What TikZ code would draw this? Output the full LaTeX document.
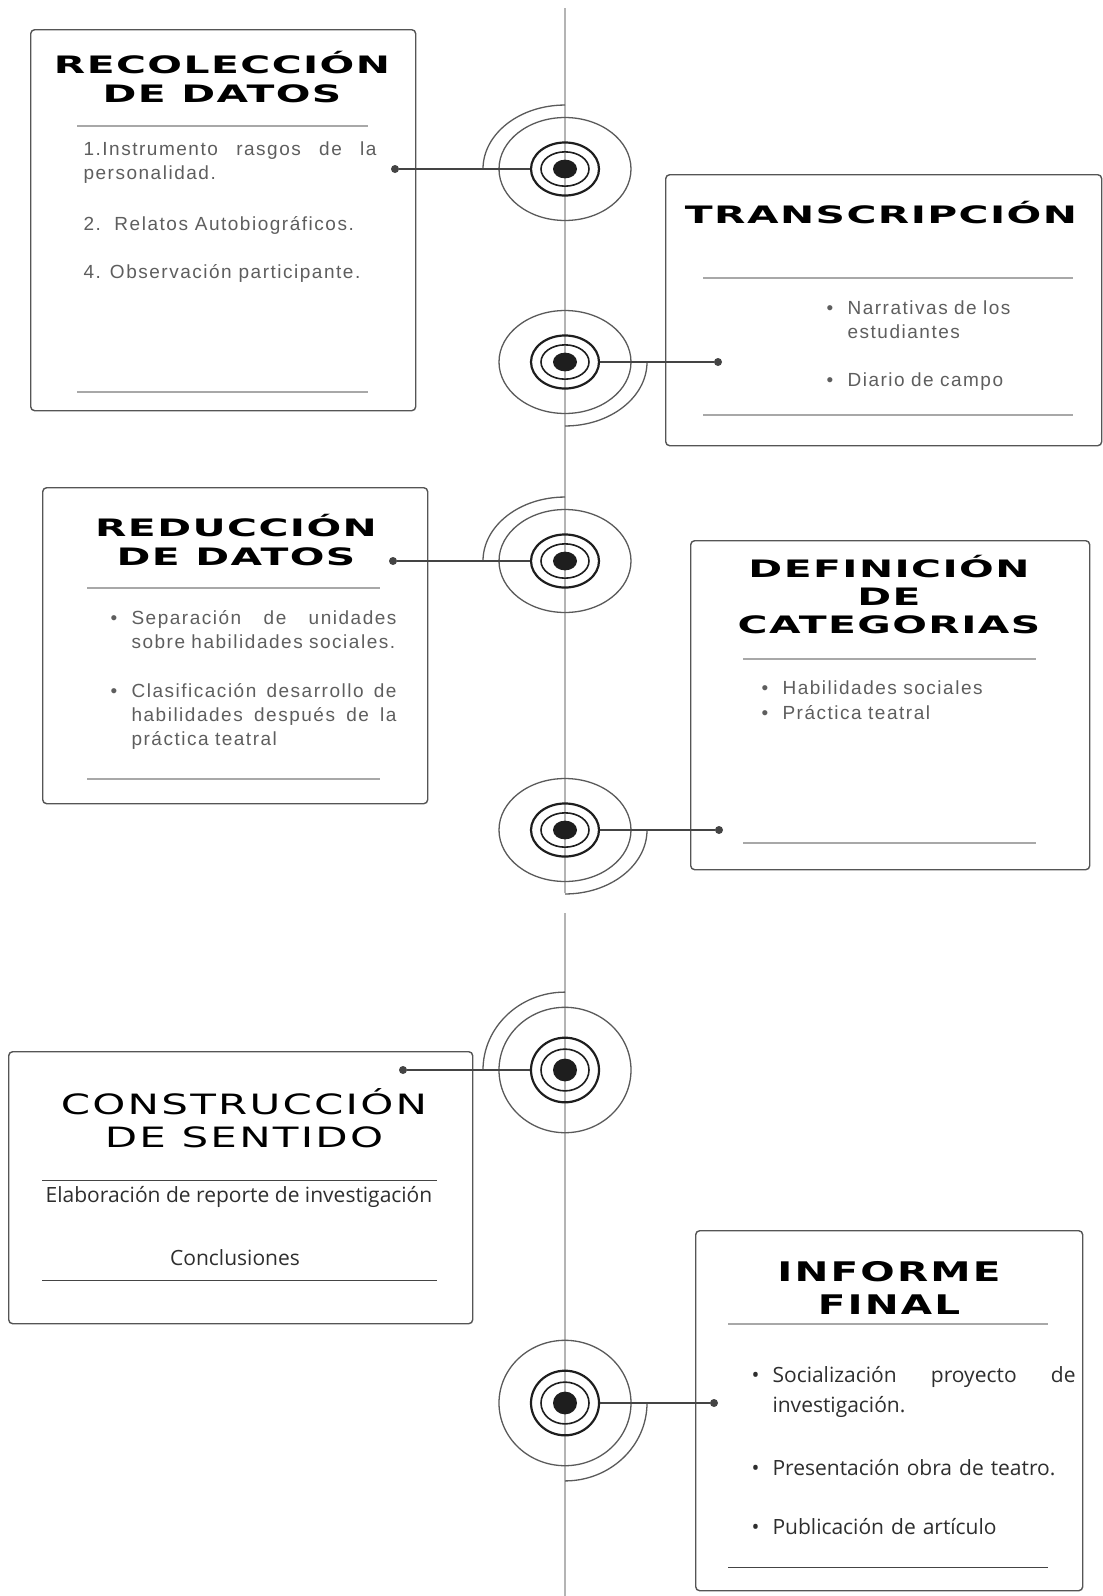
\documentclass[tikz,border=0pt]{standalone}
\usepackage{fontspec}
\setmainfont{Liberation Sans}
\newfontfamily\titlefont[FakeStretch=1.7,LetterSpace=6]{DejaVu Sans}
\newfontfamily\titlefontb[FakeStretch=1.5,LetterSpace=8]{DejaVu Sans}
\newfontfamily\bodyfont[LetterSpace=8]{Liberation Sans}
\newfontfamily\opensans{Open Sans}
\usetikzlibrary{shapes.geometric}

\definecolor{boxgray}{HTML}{555555}
\definecolor{sepgray}{HTML}{A8A8A8}
\definecolor{textgray}{HTML}{5E5E5E}
\definecolor{darktext}{HTML}{2E2E2E}
\definecolor{linegray}{HTML}{B4B4B4}
\definecolor{conngray}{HTML}{444444}
\definecolor{ringblack}{HTML}{1E1E1E}
\definecolor{outergray}{HTML}{5A5A5A}

\newcommand{\tlitem}[1]{\noindent\makebox[21pt][l]{\textbullet}\parbox[t]{\dimexpr\hsize-21pt\relax}{#1}}

\begin{document}
\begin{tikzpicture}[x=1pt, y=-1pt,
  card/.style={draw=boxgray, line width=1.4pt, rounded corners=4pt, anchor=north west, inner sep=0pt},
  cardtitle/.style={align=center, text=black, font=\titlefont\bfseries\fontsize{24}{29}\selectfont},
  bodytext/.style={anchor=west, text=textgray, font=\bodyfont\fontsize{19}{24}\selectfont},
  sanstext/.style={text=darktext, font=\opensans\fontsize{21}{30}\selectfont},
  sepline/.style={draw=sepgray, line width=1.8pt},
  darkline/.style={draw=conngray, line width=1pt},
  enddot/.style={circle, fill=conngray, inner sep=0pt, minimum size=8pt},
  conn/.style={draw=conngray, line width=1.5pt},
  timeline/.style={draw=linegray, line width=2pt},
  midring/.style={ellipse, draw=ringblack, line width=2.2pt, inner sep=0pt},
  ring/.style={draw=ringblack, line width=1.6pt},
  outerring/.style={draw=outergray, line width=1.3pt}]

\fill[white] (0,0) rectangle (1103,1596);
\useasboundingbox (0,0) rectangle (1103,1596);

% timeline
\coordinate (tl0) at (565,8);
\coordinate (tl1) at (565,893);
\coordinate (tl2) at (565,913);
\coordinate (tl3) at (565,1596);
\draw[timeline] (tl0) -- (tl1) (tl2) -- (tl3);

% spirals
\foreach \n/\cy/\k/\s in {1/169/0.78/0, 2/362/0.78/1, 3/561/0.78/0, 4/830/0.78/1, 5/1070/0.95/0, 6/1403/0.95/1}{
  \coordinate (c\n) at (565,\cy);
  \fill[ringblack] (c\n) ellipse [x radius=12, y radius=12*\k];
  \draw[ring] (c\n) ellipse [x radius=24, y radius=22*\k];
  \node[midring, minimum width=68pt, minimum height=68*\k] (r\n) at (c\n) {};
  \draw[outerring] (c\n) ellipse [x radius=66, y radius=66*\k];
  \ifnum\s=0
    \draw[outerring] (565,\cy-82*\k) arc [start angle=270, end angle=180, x radius=82, y radius=82*\k];
  \else
    \draw[outerring] (647,\cy) arc [start angle=0, end angle=90, x radius=82, y radius=82*\k];
  \fi
}

% recoleccion
\node[card, minimum width=385pt, minimum height=381pt] (recol) at (30,29) {};
\node[cardtitle] (recolT) at (222,77) {RECOLECCIÓN\\DE DATOS};
\draw[sepline] (77,126) -- (368,126) (77,392) -- (368,392);
\node[bodytext, text width=293pt] (recol1) at (80,163) {1.Instrumento\hfill rasgos\hfill de\hfill la\newline personalidad.};
\node[bodytext] (recol2) at (80,225) {2.\ \ Relatos Autobiográficos.};
\node[bodytext] (recol3) at (80,273) {4. Observación participante.};

% transcripcion
\node[card, minimum width=436pt, minimum height=271pt] (trans) at (665,174) {};
\node[cardtitle] (transT) at (881,213) {TRANSCRIPCIÓN};
\draw[sepline] (703,278) -- (1073,278) (703,415) -- (1073,415);
\node[bodytext, text width=230pt] (trans1) at (823,320) {\tlitem{Narrativas de los\newline estudiantes}};
\node[bodytext, text width=230pt] (trans2) at (823,382) {\tlitem{Diario de campo}};

% reduccion
\node[card, minimum width=385pt, minimum height=316pt] (reduc) at (42,487) {};
\node[cardtitle] (reducT) at (236,540) {REDUCCIÓN\\DE DATOS};
\draw[sepline] (87,588) -- (380,588) (87,779) -- (380,779);
\node[bodytext, text width=286pt] (reduc1) at (107,630) {\tlitem{Separación\hfill de\hfill unidades\newline sobre habilidades sociales.}};
\node[bodytext, text width=286pt] (reduc2) at (107,716) {\tlitem{Clasificación\hfill desarrollo\hfill de\newline habilidades\hfill después\hfill de\hfill la\newline práctica teatral}};

% definicion
\node[card, minimum width=399pt, minimum height=329pt] (defin) at (690,540) {};
\node[cardtitle, font=\titlefont\bfseries\fontsize{24}{28}\selectfont] (definT) at (889,595) {DEFINICIÓN\\DE\\CATEGORIAS};
\draw[sepline] (743,659) -- (1036,659) (743,843) -- (1036,843);
\node[bodytext, text width=260pt, font=\bodyfont\fontsize{19}{25}\selectfont] (defin1) at (758,700) {\tlitem{Habilidades sociales}\par\tlitem{Práctica teatral}};

% construccion
\node[card, minimum width=464pt, minimum height=272pt] (const) at (8,1051) {};
\node[cardtitle, font=\titlefontb\fontsize{28}{33}\selectfont] (constT) at (244,1118) {CONSTRUCCIÓN\\DE SENTIDO};
\draw[darkline] (42,1180) -- (437,1180) (42,1280) -- (437,1280);
\node[sanstext] (const1) at (239,1197) {Elaboración de reporte de investigación};
\node[sanstext] (const2) at (235,1258) {Conclusiones};

% informe
\node[card, minimum width=387pt, minimum height=360pt] (infor) at (695,1230) {};
\node[cardtitle, font=\titlefontb\bfseries\fontsize{27}{33}\selectfont] (inforT) at (889,1288) {INFORME\\FINAL};
\draw[sepline] (728,1324) -- (1048,1324);
\draw[darkline] (728,1567) -- (1048,1567);
\node[sanstext, anchor=west, text width=324pt] (infor1) at (748,1392) {\tlitem{Socialización\hfill proyecto\hfill de\newline investigación.}};
\node[sanstext, anchor=west, text width=324pt] (infor2) at (748,1468) {\tlitem{Presentación obra de teatro.}};
\node[sanstext, anchor=west, text width=324pt] (infor3) at (748,1527) {\tlitem{Publicación de artículo}};

% connectors
\node[enddot] (d1) at (395,169) {};
\node[enddot] (d2) at (718,362) {};
\node[enddot] (d3) at (393,561) {};
\node[enddot] (d4) at (719,830) {};
\node[enddot] (d5) at (403,1070) {};
\node[enddot] (d6) at (714,1403) {};
\draw[conn] (d1) -- (r1.west);
\draw[conn] (r2.east) -- (d2);
\draw[conn] (d3) -- (r3.west);
\draw[conn] (r4.east) -- (d4);
\draw[conn] (d5) -- (r5.west);
\draw[conn] (r6.east) -- (d6);
\end{tikzpicture}
\end{document}
